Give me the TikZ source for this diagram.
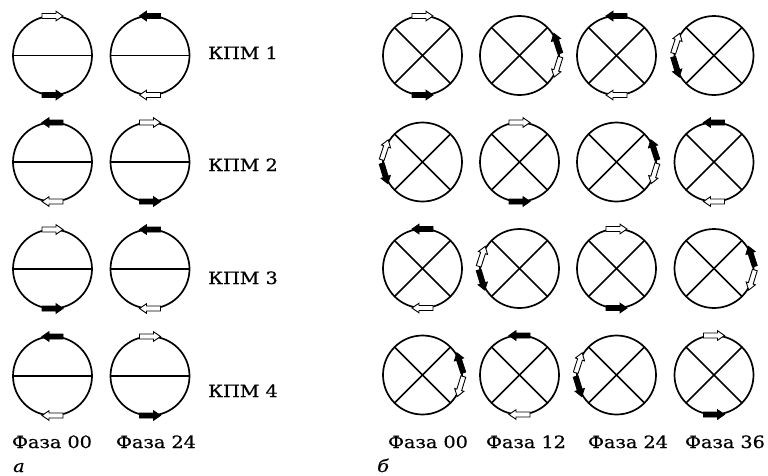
\documentclass[tikz,border=0pt]{standalone}
\usepackage{fontspec}
\setmainfont{DejaVu Serif}[FakeStretch=1.13, FakeBold=0.6]
\tikzset{
  ring/.style={circle, draw=black, line width=1.7pt, minimum size=79pt, inner sep=0pt, outer sep=0pt},
  chord/.style={draw=black, line width=1.5pt},
  arrowbody/.style={draw=black, line width=0.9pt, line join=miter},
  barrow/.pic={\path[arrowbody, fill=#1] (-10.5,-2.5) -- (3.5,-2.5) -- (3.5,-4.8) -- (10.5,0) -- (3.5,4.8) -- (3.5,2.5) -- (-10.5,2.5) -- cycle;},
  lbl/.style={font=\fontsize{17}{20}\selectfont, inner sep=0pt},
  sublbl/.style={font=\fontsize{17}{20}\selectfont\itshape, inner sep=0pt}
}
\newcommand\ArrA[1]{\path (#1.90) pic{barrow=white}; \path (#1.270) pic{barrow=black};}
\newcommand\ArrB[1]{\path (#1.90) pic[rotate=180]{barrow=black}; \path (#1.270) pic[rotate=180]{barrow=white};}
\newcommand\ArrR[1]{\path (#1.18) pic[rotate=108]{barrow=black}; \path (#1.-17) pic[rotate=-107]{barrow=white};}
\newcommand\ArrL[1]{\path (#1.162) pic[rotate=72]{barrow=white}; \path (#1.197) pic[rotate=287]{barrow=black};}
\newcommand\Hring[2]{\node[ring] (#1) at (#2) {}; \draw[chord] (#1.west) -- (#1.east);}
\newcommand\Xring[2]{\node[ring] (#1) at (#2) {}; \draw[chord] (#1.45) -- (#1.225); \draw[chord] (#1.135) -- (#1.315);}
\begin{document}
\begin{tikzpicture}[x=1pt,y=1pt]
\useasboundingbox (0,0) rectangle (768,-475);
% left group (a)
\Hring{L1a}{52.5,-55.5}  \Hring{L1b}{150,-55.5}
\Hring{L2a}{52.5,-162}   \Hring{L2b}{150,-162}
\Hring{L3a}{52.5,-269}   \Hring{L3b}{150,-269}
\Hring{L4a}{52.5,-376}   \Hring{L4b}{150,-376}
\ArrA{L1a} \ArrB{L1b}
\ArrB{L2a} \ArrA{L2b}
\ArrA{L3a} \ArrB{L3b}
\ArrB{L4a} \ArrA{L4b}
\node[lbl, anchor=base west] (k1) at (208,-59) {КПМ 1};
\node[lbl, anchor=base west] (k2) at (208,-171) {КПМ 2};
\node[lbl, anchor=base west] (k3) at (208,-284) {КПМ 3};
\node[lbl, anchor=base west] (k4) at (208,-397) {КПМ 4};
\node[lbl, anchor=base] (pa1) at (52,-448) {Фаза 00};
\node[lbl, anchor=base] (pa2) at (156,-448) {Фаза 24};
\node[sublbl, anchor=base west] (sa) at (13,-472) {а};
% right group (b)
\Xring{R1a}{422.5,-55.5} \Xring{R1b}{519.5,-55.5} \Xring{R1c}{616.5,-55.5} \Xring{R1d}{714,-55.5}
\Xring{R2a}{422.5,-162}  \Xring{R2b}{519.5,-162}  \Xring{R2c}{616.5,-162}  \Xring{R2d}{714,-162}
\Xring{R3a}{422.5,-268.5}\Xring{R3b}{519.5,-268.5}\Xring{R3c}{616.5,-268.5}\Xring{R3d}{714,-268.5}
\Xring{R4a}{422.5,-375}  \Xring{R4b}{519.5,-375}  \Xring{R4c}{616.5,-375}  \Xring{R4d}{714,-375}
\ArrA{R1a} \ArrR{R1b} \ArrB{R1c} \ArrL{R1d}
\ArrL{R2a} \ArrA{R2b} \ArrR{R2c} \ArrB{R2d}
\ArrB{R3a} \ArrL{R3b} \ArrA{R3c} \ArrR{R3d}
\ArrR{R4a} \ArrB{R4b} \ArrL{R4c} \ArrA{R4d}
\node[lbl, anchor=base] (pb1) at (428,-448) {Фаза 00};
\node[lbl, anchor=base] (pb2) at (526,-448) {Фаза 12};
\node[lbl, anchor=base] (pb3) at (628,-448) {Фаза 24};
\node[lbl, anchor=base] (pb4) at (725,-448) {Фаза 36};
\node[sublbl, anchor=base west] (sb) at (377,-472) {б};
\end{tikzpicture}
\end{document}
